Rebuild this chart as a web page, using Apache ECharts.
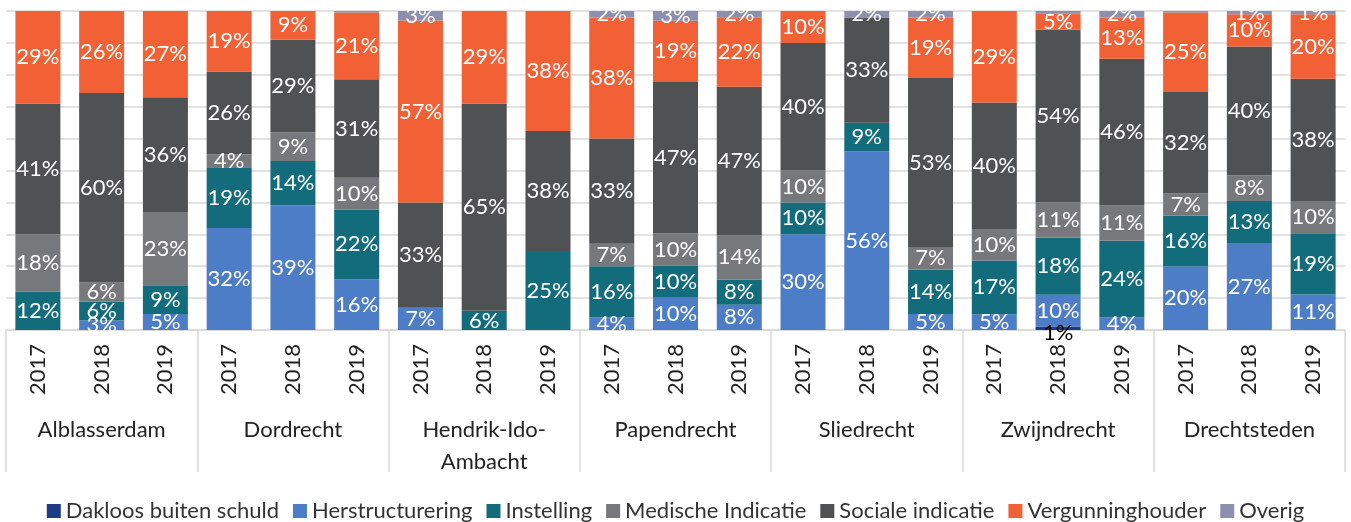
<!DOCTYPE html>
<html>
<head>
<meta charset="utf-8">
<script src="https://cdn.jsdelivr.net/npm/echarts@6/dist/echarts.min.js"></script>
<style>
  html, body { margin: 0; padding: 0; background: #fff; }
  #chart { width: 1351px; height: 522px; }
</style>
</head>
<body>
<div id="chart"></div>
<script>
// municipalities and years (two-level category axis)
const gemeenten = ['Alblasserdam', 'Dordrecht', 'Hendrik-Ido-\nAmbacht', 'Papendrecht', 'Sliedrecht', 'Zwijndrecht', 'Drechtsteden'];
const jaren = ['2017', '2018', '2019'];

// shares in %, 21 bars: per municipality 2017, 2018, 2019
const dakloos     = [0, 0, 0,   0, 0, 0,     0, 0, 0,    0, 0, 0,    0, 0, 0,    0, 1, 0,     0, 0, 0];
const herstr      = [0, 3, 5,   32, 39, 16,  7, 0, 0,    4, 10, 8,   30, 56, 5,  5, 10, 4,    20, 27, 11];
const instelling  = [12, 6, 9,  19, 14, 22,  0, 6, 25,   16, 10, 8,  10, 9, 14,  17, 18, 24,  16, 13, 19];
const medisch     = [18, 6, 23, 4, 9, 10,    0, 0, 0,    7, 10, 14,  10, 0, 7,   10, 11, 11,  7, 8, 10];
const sociaal     = [41, 60, 36, 26, 29, 31, 33, 65, 38, 33, 47, 47, 40, 33, 53, 40, 54, 46,  32, 40, 38];
const vergunning  = [29, 26, 27, 19, 9, 21,  57, 29, 38, 38, 19, 22, 10, 0, 19,  29, 5, 13,   25, 10, 20];
const overig      = [0, 0, 0,   0, 0, 0.5,   3, 0, 0,    2, 3, 2,    0, 2, 2,    0, 0.9, 2,   0.5, 1, 1];

const reeksen = [
  { name: 'Dakloos buiten schuld', data: dakloos, color: '#1f3a86', text: '#000' },
  { name: 'Herstructurering', data: herstr, color: '#4d7dc6', text: '#fff' },
  { name: 'Instelling', data: instelling, color: '#136c7c', text: '#fff' },
  { name: 'Medische Indicatie', data: medisch, color: '#77787b', text: '#fff' },
  { name: 'Sociale indicatie', data: sociaal, color: '#505153', text: '#fff' },
  { name: 'Vergunninghouder', data: vergunning, color: '#f26135', text: '#fff' },
  { name: 'Overig', data: overig, color: '#8d8fae', text: '#fff' }
];

const jaarLabels = [];
gemeenten.forEach(() => jaren.forEach((j) => jaarLabels.push(j)));

// 100% stacked: scale each bar to its own total
const totalen = jaarLabels.map((_, i) => reeksen.reduce((s, r) => s + r.data[i], 0));

const font = 'Lato, "Open Sans", sans-serif';

const series = reeksen.map((r, k) => ({
  name: r.name,
  type: 'bar',
  stack: 'totaal',
  barWidth: 45,
  itemStyle: { color: r.color },
  data: r.data.map((v, i) => ({ value: v / totalen[i] * 100, raw: v })),
  label: {
    show: true,
    position: 'inside',
    offset: k === 0 ? [0, 5] : [0, 0],
    color: r.text,
    fontFamily: font,
    fontSize: 22,
    formatter: (p) => (p.data.raw >= 1 ? Math.round(p.data.raw) + '%' : '')
  }
}));

const chart = echarts.init(document.getElementById('chart'));
chart.setOption({
  animation: false,
  textStyle: { fontFamily: font },
  grid: { left: 6, right: 6, top: 11, bottom: 192 },
  legend: {
    top: 495,
    left: 'center',
    icon: 'rect',
    itemWidth: 14,
    itemHeight: 14,
    itemGap: 14,
    textStyle: { fontSize: 22, color: '#333', fontFamily: font },
    data: reeksen.map((r) => r.name)
  },
  xAxis: [
    {
      type: 'category',
      position: 'bottom',
      data: jaarLabels,
      axisLine: { show: true, lineStyle: { color: '#d9d9d9', width: 1.5 } },
      axisTick: { show: false },
      axisLabel: { rotate: 90, margin: 14, fontSize: 22, color: '#222', fontFamily: font, interval: 0 }
    },
    {
      type: 'category',
      position: 'bottom',
      offset: 0,
      data: gemeenten,
      axisLine: { show: false },
      axisTick: { show: true, length: 142, interval: 0, lineStyle: { color: '#d9d9d9', width: 1.5 } },
      axisLabel: { margin: 84, fontSize: 22, lineHeight: 32, color: '#222', fontFamily: font, interval: 0 }
    }
  ],
  yAxis: {
    type: 'value',
    min: 0,
    max: 100,
    interval: 10,
    axisLabel: { show: false },
    axisLine: { show: false },
    axisTick: { show: false },
    splitLine: { lineStyle: { color: '#d9d9d9', width: 1.5 } }
  },
  series: series
});
</script>
</body>
</html>
